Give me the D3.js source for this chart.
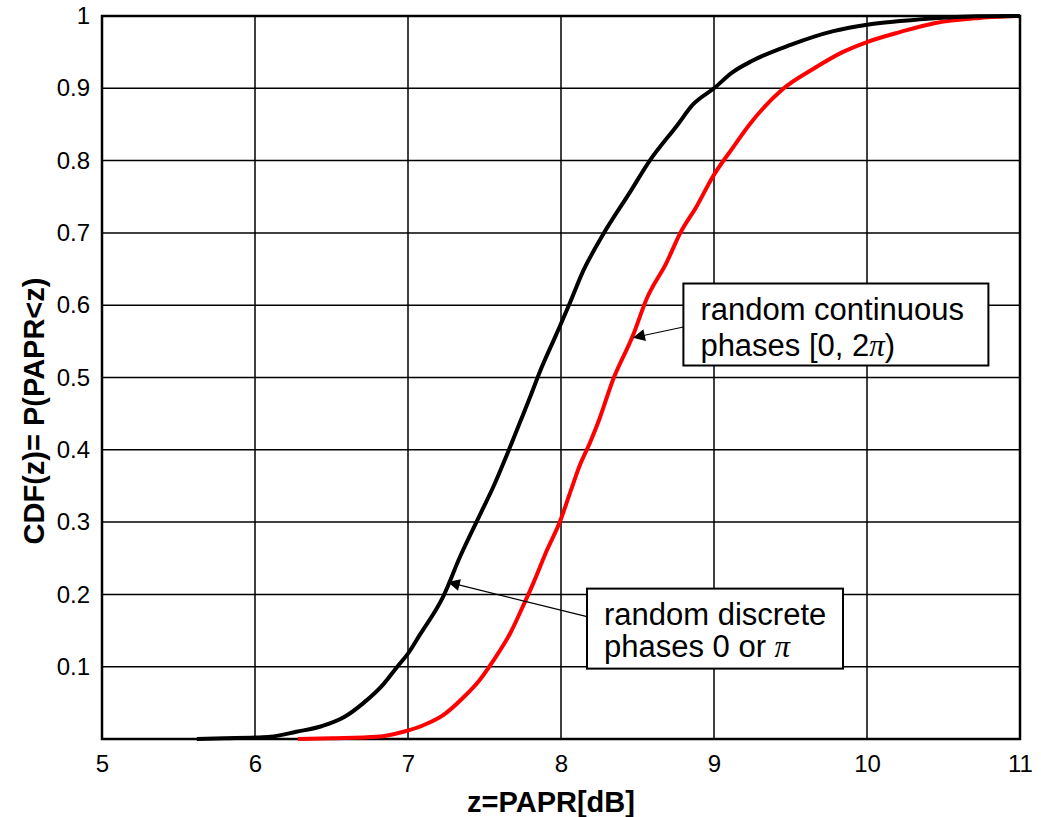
<!DOCTYPE html>
<html>
<head>
<meta charset="utf-8">
<script src="https://cdn.jsdelivr.net/npm/d3@7"></script>
<style>
  body { margin: 0; background: #fff; }
  text { font-family: "Liberation Sans", Arial, Helvetica, sans-serif; }
</style>
</head>
<body>
<svg id="chart"></svg>
<script>
const discreteZ   = [5.62, 5.80, 6.00, 6.10, 6.27, 6.44, 6.58, 6.71, 6.84, 6.93, 7.00, 7.08, 7.23, 7.34, 7.47, 7.56, 7.65, 7.73, 7.80, 7.86, 7.97, 8.06, 8.14, 8.27, 8.45, 8.58, 8.76, 8.86, 9.00, 9.12, 9.25, 9.50, 9.78, 10.00, 10.22, 10.44, 10.72, 11.00];
const discreteCdf = [0, 0.001, 0.002, 0.003, 0.010, 0.018, 0.030, 0.050, 0.076, 0.100, 0.118, 0.145, 0.197, 0.252, 0.310, 0.350, 0.395, 0.437, 0.474, 0.507, 0.560, 0.604, 0.645, 0.696, 0.756, 0.800, 0.849, 0.877, 0.900, 0.922, 0.938, 0.960, 0.979, 0.988, 0.993, 0.997, 0.9995, 1.0];

// random continuous phases [0, 2pi) (red)
const continuousZ   = [6.28, 6.50, 6.80, 6.97, 7.10, 7.23, 7.36, 7.47, 7.56, 7.67, 7.75, 7.82, 7.91, 7.99, 8.06, 8.12, 8.19, 8.25, 8.34, 8.47, 8.56, 8.69, 8.78, 8.89, 8.99, 9.12, 9.24, 9.45, 9.65, 9.84, 10.00, 10.22, 10.44, 10.72, 10.93, 11.00];
const continuousCdf = [0, 0.001, 0.003, 0.010, 0.019, 0.033, 0.057, 0.082, 0.109, 0.147, 0.183, 0.216, 0.262, 0.299, 0.341, 0.377, 0.410, 0.442, 0.497, 0.558, 0.609, 0.659, 0.700, 0.738, 0.777, 0.817, 0.852, 0.899, 0.927, 0.950, 0.964, 0.978, 0.990, 0.997, 0.9995, 1.0];

const xTicks = [5, 6, 7, 8, 9, 10, 11];
const yTicks = [0.1, 0.2, 0.3, 0.4, 0.5, 0.6, 0.7, 0.8, 0.9, 1];

// callouts: box corner and arrow tip in data units
const notes = [
  { lines: ["random continuous", "phases [0, 2", ")"], box: [8.80, 0.630], tip: [8.47, 0.555], w: 305, h: 82, from: 0.53, gap: 36 },
  { lines: ["random discrete", "phases 0 or ", ""], box: [8.17, 0.208], tip: [7.26, 0.217], w: 256, h: 80, from: 0.35, gap: 32 }
];

const W = 1041, H = 817;
const x = d3.scaleLinear().domain([5, 11]).range([102, 1020]);
const y = d3.scaleLinear().domain([0, 1]).range([739, 16]);

const svg = d3.select("#chart").attr("width", W).attr("height", H);
svg.append("rect").attr("width", W).attr("height", H).attr("fill", "#fff");

// grid
svg.append("g").selectAll("line").data(xTicks.slice(1, -1)).join("line")
  .attr("x1", d => x(d)).attr("x2", d => x(d))
  .attr("y1", y(0)).attr("y2", y(1))
  .attr("stroke", "#000").attr("stroke-width", 1.5);
svg.append("g").selectAll("line").data(yTicks.slice(0, -1)).join("line")
  .attr("x1", x(5)).attr("x2", x(11))
  .attr("y1", d => y(d)).attr("y2", d => y(d))
  .attr("stroke", "#000").attr("stroke-width", 1.5);

// axes (labels only, frame drawn below)
const xAxis = svg.append("g").attr("transform", `translate(0,${y(0)})`)
  .call(d3.axisBottom(x).tickValues(xTicks).tickSize(0).tickPadding(16).tickFormat(d3.format("")));
const yAxis = svg.append("g").attr("transform", `translate(${x(5)},0)`)
  .call(d3.axisLeft(y).tickValues(yTicks).tickSize(0).tickPadding(12).tickFormat(d3.format("")));
[xAxis, yAxis].forEach(g => {
  g.select(".domain").remove();
  g.selectAll("text").attr("font-size", 24).attr("fill", "#000")
    .attr("font-family", "Liberation Sans, Arial, sans-serif");
});

svg.append("rect")
  .attr("x", x(5)).attr("y", y(1))
  .attr("width", x(11) - x(5)).attr("height", y(0) - y(1))
  .attr("fill", "none").attr("stroke", "#000").attr("stroke-width", 2.5);

// curves
const lineGen = d3.line().x(d => x(d[0])).y(d => y(d[1])).curve(d3.curveMonotoneX);
svg.append("path").datum(d3.zip(continuousZ, continuousCdf))
  .attr("d", lineGen).attr("fill", "none").attr("stroke", "#ff0000").attr("stroke-width", 4);
svg.append("path").datum(d3.zip(discreteZ, discreteCdf))
  .attr("d", lineGen).attr("fill", "none").attr("stroke", "#000").attr("stroke-width", 4);

// callouts
svg.append("defs").append("marker")
  .attr("id", "head").attr("viewBox", "0 0 10 10").attr("refX", 10).attr("refY", 5)
  .attr("markerWidth", 17).attr("markerHeight", 12).attr("markerUnits", "userSpaceOnUse")
  .attr("orient", "auto")
  .append("path").attr("d", "M0,0 L10,5 L0,10 Z").attr("fill", "#000");

notes.forEach(n => {
  const bx = x(n.box[0]), by = y(n.box[1]);
  const g = svg.append("g");
  g.append("line")
    .attr("x1", bx).attr("y1", by + n.h * n.from)
    .attr("x2", x(n.tip[0])).attr("y2", y(n.tip[1]))
    .attr("stroke", "#000").attr("stroke-width", 1.2).attr("marker-end", "url(#head)");
  g.append("rect").attr("x", bx).attr("y", by).attr("width", n.w).attr("height", n.h)
    .attr("fill", "#fff").attr("stroke", "#000").attr("stroke-width", 2);
  const t = g.append("text").attr("font-size", 31).attr("fill", "#000");
  t.append("tspan").attr("x", bx + 17).attr("y", by + 36).text(n.lines[0]);
  t.append("tspan").attr("x", bx + 17).attr("y", by + 36 + n.gap).text(n.lines[1]);
  t.append("tspan").attr("font-family", "Liberation Serif, Times New Roman, serif")
    .attr("font-style", "italic").text("\u03c0");
  if (n.lines[2]) t.append("tspan").text(n.lines[2]);
});

// axis titles
svg.append("text").attr("x", 551).attr("y", 812).attr("text-anchor", "middle")
  .attr("font-size", 29).attr("font-weight", "bold").text("z=PAPR[dB]");
svg.append("text").attr("transform", "translate(44,411) rotate(-90)")
  .attr("text-anchor", "middle").attr("font-size", 29).attr("font-weight", "bold")
  .text("CDF(z)= P(PAPR<z)");
</script>
</body>
</html>
